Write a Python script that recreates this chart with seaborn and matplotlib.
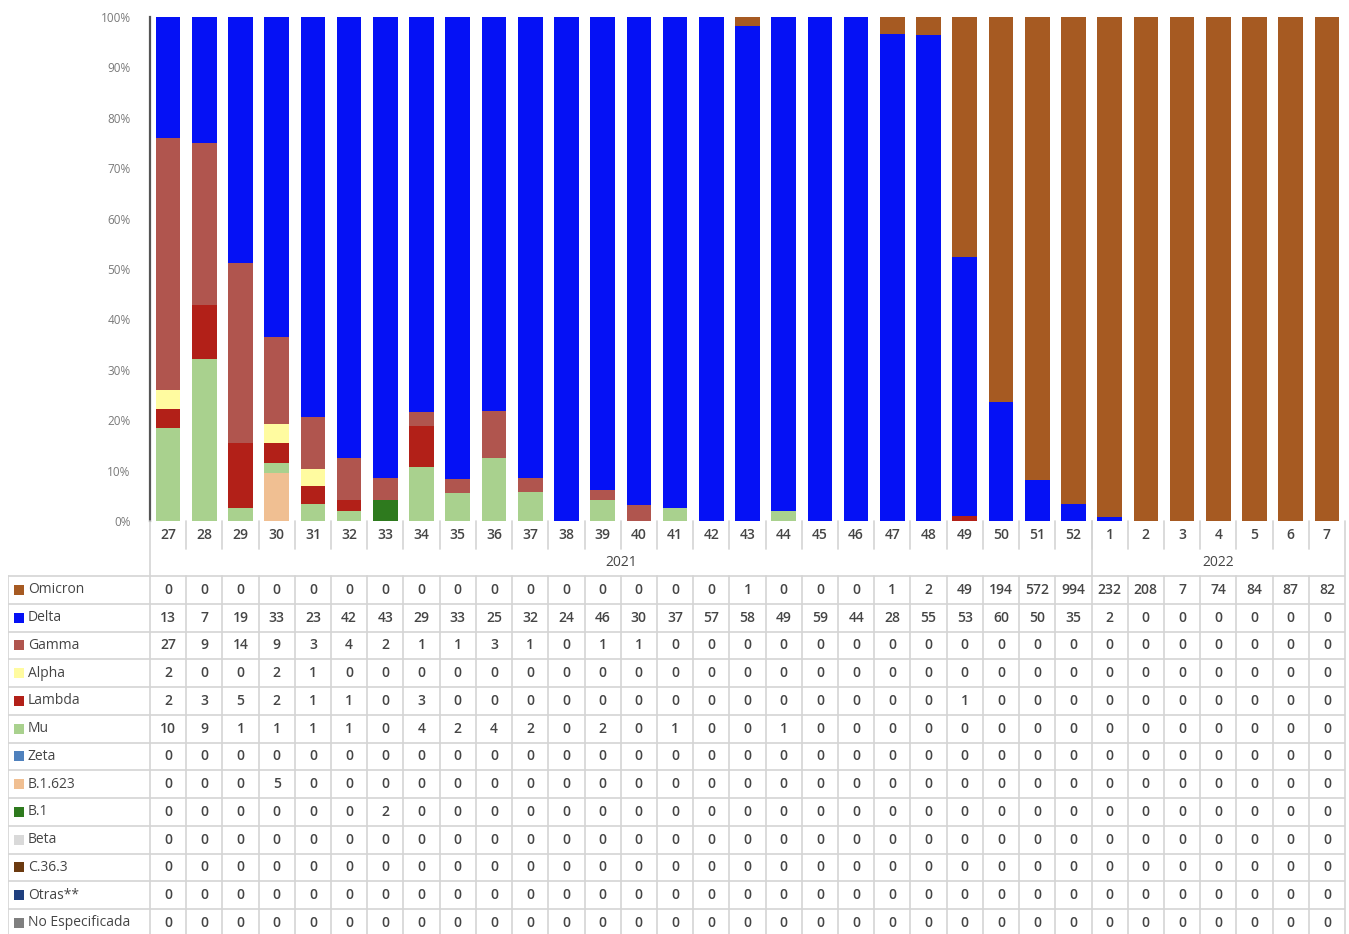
import matplotlib.pyplot as plt
import pandas as pd
import seaborn as sns

sns.set_theme(style='white')
plt.rcParams['font.family'] = ['Open Sans', 'DejaVu Sans']

weeks = [27, 28, 29, 30, 31, 32, 33, 34, 35, 36, 37, 38, 39, 40, 41, 42, 43,
         44, 45, 46, 47, 48, 49, 50, 51, 52, 1, 2, 3, 4, 5, 6, 7]
years = ['2021'] * 26 + ['2022'] * 7

variants = ['Omicron', 'Delta', 'Gamma', 'Alpha', 'Lambda', 'Mu', 'Zeta',
            'B.1.623', 'B.1', 'Beta', 'C.36.3', 'Otras**', 'No Especificada']
colours = ['#A65A22', '#0511F5', '#B0554E', '#FFFBA0', '#B22018', '#A9D18E',
           '#4F81BD', '#F0BF92', '#2E7A1E', '#D9D9D9', '#6B3A10', '#1F3F7F',
           '#7F7F7F']

zeros = [0] * 33
omicron = [0, 0, 0, 0, 0, 0, 0, 0, 0, 0, 0, 0, 0, 0, 0, 0, 1, 0, 0, 0, 1, 2,
           49, 194, 572, 994, 232, 208, 7, 74, 84, 87, 82]
delta = [13, 7, 19, 33, 23, 42, 43, 29, 33, 25, 32, 24, 46, 30, 37, 57, 58,
         49, 59, 44, 28, 55, 53, 60, 50, 35, 2, 0, 0, 0, 0, 0, 0]
gamma = [27, 9, 14, 9, 3, 4, 2, 1, 1, 3, 1, 0, 1, 1] + [0] * 19
alpha = [2, 0, 0, 2, 1] + [0] * 28
lambda_ = [2, 3, 5, 2, 1, 1, 0, 3] + [0] * 14 + [1] + [0] * 10
mu = [10, 9, 1, 1, 1, 1, 0, 4, 2, 4, 2, 0, 2, 0, 1, 0, 0, 1] + [0] * 15
zeta = zeros
b1623 = [0, 0, 0, 5] + [0] * 29
b1 = [0, 0, 0, 0, 0, 0, 2] + [0] * 26
beta = zeros
c363 = zeros
otras = zeros
no_esp = zeros

counts = pd.DataFrame(
    [omicron, delta, gamma, alpha, lambda_, mu, zeta, b1623, b1, beta, c363,
     otras, no_esp],
    index=variants
).T
counts['pos'] = range(len(weeks))

share = counts[variants].div(counts[variants].sum(axis=1), axis=0) * 100
# cumulative from the bottom (No Especificada) up to Omicron
cum = share[variants[::-1]].cumsum(axis=1)
cum['pos'] = counts['pos']

W, H = 1349, 934
fig = plt.figure(figsize=(W / 100, H / 100), dpi=100)

x0, x1 = 150, 1345
y_top, y_base = 17, 521
ax = fig.add_axes([x0 / W, (H - y_base) / H, (x1 - x0) / W,
                   (y_base - y_top) / H])

# draw the tallest stack first, then cover with the lower ones
for name, col in zip(variants, colours):
    sns.barplot(data=cum, x='pos', y=name, color=col, saturation=1,
                width=0.68, errorbar=None, ax=ax, linewidth=0)

ax.set_xlim(-0.5, len(weeks) - 0.5)
ax.set_ylim(0, 100)
ax.set_yticks(range(0, 101, 10))
ax.set_yticklabels([f'{v}%' for v in range(0, 101, 10)])
ax.tick_params(axis='y', length=0, pad=14, labelsize=8.5,
               labelcolor='#7a7a7a')
ax.set_xticks([])
ax.set_xlabel('')
ax.set_ylabel('')
sns.despine(ax=ax, top=True, right=True, bottom=True)
ax.spines['left'].set_color('#555555')
ax.spines['left'].set_linewidth(1.6)

# data table underneath, x in column units, y in pixels from the top
lab_left = 8
colw = (x1 - x0) / len(weeks)
tab = fig.add_axes([lab_left / W, 0, (x1 - lab_left) / W, (H - y_base) / H])
left_edge = -0.5 - (x0 - lab_left) / colw
tab.set_xlim(left_edge, len(weeks) - 0.5)
tab.set_ylim(H, y_base)
tab.axis('off')

grid = '#d4d4d4'
txt = '#454545'
row_top = 576
row_h = 27.75
tick_end = 549
n = len(weeks)

# week labels and their short separators
for i, w in enumerate(weeks):
    tab.text(i, 535, str(w), ha='center', va='center', fontsize=10,
             color=txt, fontweight='semibold')
for i in range(1, n):
    tab.plot([i - 0.5, i - 0.5], [y_base, tick_end], color=grid, lw=1.2,
             clip_on=False)

# year labels
split = years.index('2022')
tab.text((split - 1) / 2, 562, '2021', ha='center', va='center',
         fontsize=10, color=txt)
tab.text((split + n - 1) / 2, 562, '2022', ha='center', va='center',
         fontsize=10, color=txt)
for xv in (-0.5, split - 0.5, n - 0.5):
    tab.plot([xv, xv], [y_base, H], color=grid, lw=1.2, clip_on=False)

# table body
tab.plot([left_edge + 0.01, left_edge + 0.01], [row_top, H], color=grid,
         lw=1.2)
for i in range(1, n):
    if i != split:
        tab.plot([i - 0.5, i - 0.5], [row_top, H], color=grid, lw=1.2)
for r in range(len(variants) + 1):
    yy = row_top + r * row_h
    tab.plot([left_edge, n - 0.5], [yy, yy], color=grid, lw=1.2)

for r, (name, col) in enumerate(zip(variants, colours)):
    yc = row_top + (r + 0.5) * row_h
    tab.scatter([left_edge + 0.3], [yc], marker='s', s=42, color=col,
                linewidths=0)
    tab.text(left_edge + 0.55, yc, name, ha='left', va='center',
             fontsize=10, color=txt)
    for i in range(n):
        tab.text(i, yc, str(counts[name].iloc[i]), ha='center',
                 va='center', fontsize=10, color=txt, fontweight='semibold')

fig.savefig('out.png', dpi=100, facecolor='white')
